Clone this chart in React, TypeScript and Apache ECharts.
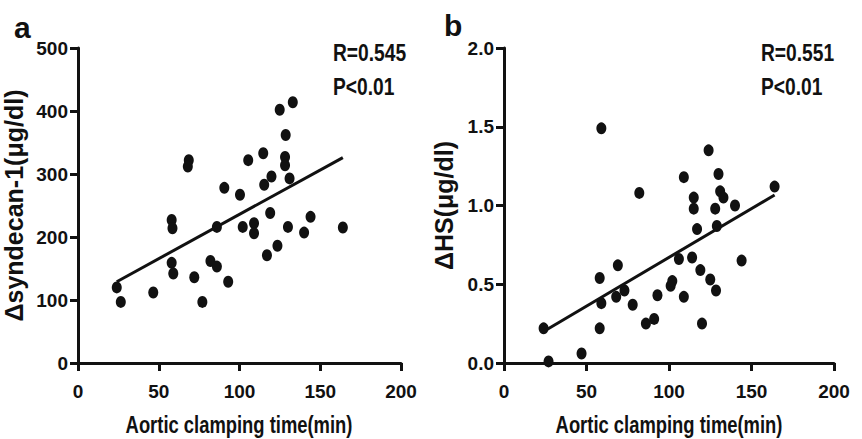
import React, { useEffect, useRef } from "react";
import * as echarts from "echarts";

// ---- data ----
const xTicksMax = 200;
const syndecanPoints: [number, number][] = [
  [24, 120], [26.5, 97], [46.6, 112], [58, 227], [58.5, 214], [58, 159], [59, 142],
  [72, 136], [77, 97], [82, 162], [86, 153], [86, 216], [93, 129], [102, 216],
  [109, 222], [109, 206], [117, 171], [119, 238], [123.5, 186], [130, 216], [140, 207],
  [144, 232], [164, 215], [68.6, 322], [68, 312], [90.6, 278], [100.3, 267],
  [105.4, 322], [114.7, 333], [119.8, 296], [115.3, 283], [124.9, 402], [133, 414],
  [128.6, 362], [128.2, 327], [128.2, 314], [131, 293],
];
const hsPoints: [number, number][] = [
  [24, 0.22], [27, 0.01], [47, 0.06], [58, 0.54], [58, 0.22], [59, 0.38], [69, 0.62],
  [68, 0.42], [73, 0.46], [78, 0.37], [86, 0.25], [91, 0.28], [93, 0.43], [101, 0.49],
  [102, 0.52], [106, 0.66], [109, 0.42], [114, 0.67], [119, 0.59], [120, 0.25],
  [125, 0.53], [128.5, 0.46], [144, 0.65], [117, 0.85], [115, 0.98], [115, 1.05],
  [128, 0.98], [129, 0.87], [131, 1.09], [133, 1.05], [140, 1.0], [109, 1.18],
  [124, 1.35], [130, 1.2], [164, 1.12], [59, 1.49], [82, 1.08],
];
const syndecanFit: [number, number][] = [[24, 129], [164, 326]];
const hsFit: [number, number][] = [[24, 0.2], [164, 1.067]];
const panelLetters = ["a", "b"];
const statsA = ["R=0.545", "P<0.01"];
const statsB = ["R=0.551", "P<0.01"];
const yNames = ["Δsyndecan-1(μg/dl)", "ΔHS(μg/dl)"];
const xName = "Aortic clamping time(min)";

const FONT = "'Liberation Sans', Arial, sans-serif";

export default function App() {
  const ref = useRef<HTMLDivElement>(null);
  useEffect(() => {
    if (!ref.current) return;
    const chart = echarts.init(ref.current, undefined, { renderer: "svg" });
    const axisLine = { show: true, lineStyle: { color: "#111", width: 3 } };
    const axisTick = { show: true, length: 8, inside: false, lineStyle: { color: "#111", width: 3 } };
    const labelStyle = { color: "#111", fontFamily: FONT, fontWeight: "bold" as const, fontSize: 19 };
    const xAxis = (gi: number) => ({
      type: "value", gridIndex: gi, min: 0, max: xTicksMax, interval: 50,
      axisLine, axisTick, splitLine: { show: false },
      axisLabel: { ...labelStyle, margin: 19 },
    });
    const condensed = (text: string, x: number, y: number, size: number, align: string, lineHeight?: number) => ({
      type: "text", x, y, scaleX: 0.8,
      style: {
        text, font: `bold ${size}px ${FONT}`, fill: "#111",
        textAlign: align, textVerticalAlign: "top", lineHeight: lineHeight ?? size,
      },
    });
    const option: any = {
      animation: false,
      backgroundColor: "#fff",
      grid: [
        { left: 76, top: 48, width: 325, height: 315 },
        { left: 504, top: 48, width: 330, height: 315 },
      ],
      xAxis: [xAxis(0), xAxis(1)],
      yAxis: [
        {
          type: "value", gridIndex: 0, min: 0, max: 500, interval: 100,
          axisLine, axisTick, splitLine: { show: false },
          axisLabel: { ...labelStyle, margin: 10 },
          name: yNames[0], nameLocation: "middle", nameGap: 52,
          nameTextStyle: { color: "#111", fontFamily: FONT, fontWeight: "bold", fontSize: 25 },
        },
        {
          type: "value", gridIndex: 1, min: 0, max: 2, interval: 0.5,
          axisLine, axisTick, splitLine: { show: false },
          axisLabel: { ...labelStyle, margin: 10, formatter: (v: number) => v.toFixed(1) },
          name: yNames[1], nameLocation: "middle", nameGap: 48,
          nameTextStyle: { color: "#111", fontFamily: FONT, fontWeight: "bold", fontSize: 25 },
        },
      ],
      series: [
        { type: "scatter", xAxisIndex: 0, yAxisIndex: 0, data: syndecanPoints, symbol: "circle", symbolSize: [10, 12], itemStyle: { color: "#111", opacity: 1 } },
        { type: "line", xAxisIndex: 0, yAxisIndex: 0, data: syndecanFit, showSymbol: false, lineStyle: { color: "#111", width: 3 } },
        { type: "scatter", xAxisIndex: 1, yAxisIndex: 1, data: hsPoints, symbol: "circle", symbolSize: [10, 12], itemStyle: { color: "#111", opacity: 1 } },
        { type: "line", xAxisIndex: 1, yAxisIndex: 1, data: hsFit, showSymbol: false, lineStyle: { color: "#111", width: 3 } },
      ],
      graphic: [
        { type: "text", left: 14, top: 12, style: { text: panelLetters[0], font: `bold 30px ${FONT}`, fill: "#111" } },
        { type: "text", left: 444, top: 10, style: { text: panelLetters[1], font: `bold 30px ${FONT}`, fill: "#111" } },
        condensed(statsA.join("\n"), 333, 36, 24, "left", 34),
        condensed(statsB.join("\n"), 761, 36, 24, "left", 34),
        condensed(xName, 239, 413, 23, "center"),
        condensed(xName, 669, 413, 23, "center"),
      ],
    };
    chart.setOption(option);
    return () => chart.dispose();
  }, []);
  return <div ref={ref} style={{ position: "absolute", left: 0, top: 0, width: 862, height: 439 }} />;
}
